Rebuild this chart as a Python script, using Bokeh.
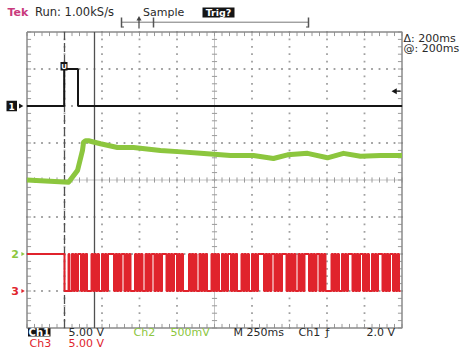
import numpy as np
from bokeh.plotting import figure
from bokeh.models import Range1d
from bokeh.core.properties import value
from bokeh.embed import file_html
from bokeh.resources import INLINE

# ---------------- data ----------------
time_per_div = 250.0          # ms / div
ch1_scale, ch1_pos = 5.0, 2   # V/div, ground position (div)
ch2_scale, ch2_pos = 0.5, -2
ch3_scale, ch3_pos = 5.0, -3
trig_level = 2.0              # V on Ch1
cursor_a, cursor_b = 0.0, 200.0   # ms

ch1_t = [-250, -2, -2, 90, 90, 2250]
ch1_v = [0.0, 0.0, 5.0, 5.0, 0.0, 0.0]

ch2_t = [-250, 27, 87, 120, 127, 140, 160, 240, 353, 460, 640, 780, 907, 1107,
         1260, 1393, 1487, 1620, 1753, 1860, 1973, 2107, 2250]
ch2_v = [1.00, 0.97, 1.13, 1.40, 1.51, 1.53, 1.53, 1.49, 1.44, 1.44, 1.40, 1.38,
         1.36, 1.33, 1.33, 1.29, 1.34, 1.36, 1.30, 1.36, 1.32, 1.33, 1.33]

# Ch3: high before trigger, short low, then PWM (run lengths in 10 ms slots)
ch3_pre_t = [-250, 0, 0, 27, 27, 33, 33, 50]
ch3_pre_v = [5.0, 5.0, 0.0, 0.0, 5.0, 5.0, 0.0, 0.0]
ch3_runs = ("1111211113111112111141111121111311111211112111113111112111141111121111"
            "1311111211112111131111121111411111211111311111121111311111211114111112"
            "11113111112111121111311111211111")
ch3_slot = 10.0  # ms

# ---------------- geometry ----------------
W, H = 462, 349
PXX, PXY = 37.5, 37.0               # px per division
GX0, GY0 = 26.5, 31.5               # grid top-left on the page
t_left = -time_per_div - GX0 / PXX * time_per_div
t_right = t_left + W / PXX * time_per_div
d_top = 4 + GY0 / PXY
d_bot = d_top - H / PXY

def X(px):  # page px -> ms
    return t_left + px / PXX * time_per_div

def Y(py):  # page px -> div
    return d_top - py / PXY

p = figure(width=W, height=H, x_range=Range1d(t_left, t_right),
           y_range=Range1d(d_bot, d_top), output_backend="svg",
           toolbar_location=None, min_border=0,
           x_axis_location=None, y_axis_location=None)
p.grid.visible = False
p.outline_line_color = None
p.background_fill_color = "white"
p.border_fill_color = "white"

p.extra_y_ranges = {
    "ch1": Range1d((d_bot - ch1_pos) * ch1_scale, (d_top - ch1_pos) * ch1_scale),
    "ch2": Range1d((d_bot - ch2_pos) * ch2_scale, (d_top - ch2_pos) * ch2_scale),
    "ch3": Range1d((d_bot - ch3_pos) * ch3_scale, (d_top - ch3_pos) * ch3_scale),
}

# ---------------- graticule ----------------
GRID = "#a0a0a0"
tmin, tmax = -time_per_div, 9 * time_per_div
mt = np.arange(tmin, tmax + 1, time_per_div / 5)
md = np.arange(-4, 4.01, 0.2)
vx = [tmin + k * time_per_div for k in range(1, 10) if k != 5]
hy = [-3, -2, -1, 1, 2, 3]
dots_x = np.concatenate([np.repeat(vx, len(md)), np.tile(mt, len(hy))])
dots_y = np.concatenate([np.tile(md, len(vx)), np.repeat(hy, len(mt))])
p.scatter(x=dots_x, y=dots_y, marker="square", size=1.8, fill_color=GRID,
          line_color=None)
# centre axes with minor ticks
tc = tmin + 5 * time_per_div
p.segment(x0=[tmin], y0=[0], x1=[tmax], y1=[0], line_color="#c4c4c4", line_width=1)
p.segment(x0=[tc], y0=[-4], x1=[tc], y1=[4], line_color="#c4c4c4", line_width=1)
p.segment(x0=mt, y0=-0.07, x1=mt, y1=0.07, line_color="#9a9a9a", line_width=1)
dt = 0.07 * time_per_div * PXY / PXX
p.segment(x0=tc - dt, y0=md, x1=tc + dt, y1=md, line_color="#9a9a9a", line_width=1)
# border ticks
tk_t = 0.11
tk_d = 0.11 * time_per_div * PXY / PXX
p.segment(x0=mt, y0=4, x1=mt, y1=4 - tk_t, line_color="#9a9a9a", line_width=1)
p.segment(x0=mt, y0=-4, x1=mt, y1=-4 + tk_t, line_color="#9a9a9a", line_width=1)
p.segment(x0=tmin, y0=md, x1=tmin + tk_d, y1=md, line_color="#9a9a9a", line_width=1)
p.segment(x0=tmax, y0=md, x1=tmax - tk_d, y1=md, line_color="#9a9a9a", line_width=1)
p.line(x=[tmin, tmax, tmax, tmin, tmin], y=[4, 4, -4, -4, 4],
       line_color="#8a8a8a", line_width=1.5)

# ---------------- cursors ----------------
p.segment(x0=[cursor_a], y0=[-4], x1=[cursor_a], y1=[4], line_color="#505050",
          line_width=1.3, line_dash="9 3")
p.segment(x0=[cursor_b], y0=[-4], x1=[cursor_b], y1=[4], line_color="#505050",
          line_width=1.3)

# ---------------- traces ----------------
GREEN, RED, BLACK = "#8cc63e", "#e0232c", "#151515"
p.line(ch2_t, ch2_v, y_range_name="ch2", line_color=GREEN, line_width=5,
       line_join="round")

# ch3 step trace
xs, ys = list(ch3_pre_t), list(ch3_pre_v)
t, lvl = ch3_pre_t[-1], 5.0
for c in ch3_runs:
    xs += [t, t]
    ys += [ys[-1], lvl]
    t2 = min(t + int(c) * ch3_slot, tmax)
    xs.append(t2)
    ys.append(lvl)
    t = t2
    lvl = 0.0 if lvl > 0 else 5.0
    if t >= tmax:
        break
p.line(xs, ys, y_range_name="ch3", line_color=RED, line_width=2)

p.line(ch1_t, ch1_v, y_range_name="ch1", line_color=BLACK, line_width=2)

# ---------------- markers ----------------
FONT = value("DejaVu Sans")

def txt(px, py, s, color="#2a2a2a", size="11px", style="normal", align="left",
        rng="default", yv=None):
    kw = {}
    if rng != "default":
        kw["y_range_name"] = rng
    p.text(x=[X(px)], y=[Y(py) if yv is None else yv], text=[s], text_font=FONT,
           text_font_size=size, text_color=color, text_font_style=style,
           text_baseline="middle", text_align=align, **kw)

def box(px0, px1, py0, py1, color=BLACK):
    p.quad(left=X(px0), right=X(px1), top=Y(py0), bottom=Y(py1),
           fill_color=color, line_color=None)

# channel ground markers
p.quad(left=X(6), right=X(16.5), top=[ch1_scale * 0.14], bottom=[-ch1_scale * 0.14],
       y_range_name="ch1", fill_color=BLACK, line_color=None)
txt(11.2, 0, "1", color="white", size="9px", style="bold", align="center",
    rng="ch1", yv=0)
p.scatter(x=[X(20)], y=[0], y_range_name="ch1", marker="triangle", angle=-np.pi / 2,
          size=5, fill_color=BLACK, line_color=None)
txt(14.5, 0, "2", color=GREEN, size="11px", style="bold", align="center",
    rng="ch2", yv=0)
p.scatter(x=[X(22)], y=[0], y_range_name="ch2", marker="triangle", angle=-np.pi / 2,
          size=4, fill_color=GREEN, line_color=None)
txt(14.5, 0, "3", color=RED, size="11px", style="bold", align="center",
    rng="ch3", yv=0)
p.scatter(x=[X(22)], y=[0], y_range_name="ch3", marker="triangle", angle=-np.pi / 2,
          size=4, fill_color=RED, line_color=None)
# trigger level arrow
p.scatter(x=[X(394.5)], y=[trig_level], y_range_name="ch1", marker="triangle",
          angle=np.pi / 2, size=6, fill_color=BLACK, line_color=None)
p.segment(x0=[X(395)], y0=[trig_level], x1=[X(400)], y1=[trig_level],
          y_range_name="ch1", line_color=BLACK, line_width=1.2)
# small marker at pulse top
box(60, 67, 61.5, 70)
txt(63.5, 66, "U", color="white", size="7px", style="bold", align="center")

# ---------------- header ----------------
txt(7, 11.5, "Tek", color="#c93a7d", size="11px", style="bold")
txt(34.5, 11.5, "Run: 1.00kS/s", size="11.5px")
txt(142.5, 11.5, "Sample", size="11px")
box(202, 234, 7, 17)
txt(218, 12, "Trig?", color="white", size="9.5px", style="bold", align="center")
# record view bracket
p.segment(x0=[X(121)], y0=[Y(21.7)], x1=[X(308)], y1=[Y(21.7)], line_color="#777777",
          line_width=1)
for bx in (121, 153, 308):
    p.segment(x0=[X(bx)], y0=[Y(17)], x1=[X(bx)], y1=[Y(27)], line_color="#555555",
              line_width=1.5)
p.segment(x0=[X(121)], y0=[Y(26.5)], x1=[X(123.5)], y1=[Y(26.5)],
          line_color="#555555", line_width=1.2)
p.segment(x0=[X(305.5)], y0=[Y(26.5)], x1=[X(308)], y1=[Y(26.5)],
          line_color="#555555", line_width=1.2)
p.segment(x0=[X(138.5)], y0=[Y(18)], x1=[X(138.5)], y1=[Y(28)], line_color="#444444",
          line_width=1.2)
p.scatter(x=[X(138.5)], y=[Y(18.5)], marker="triangle", size=5,
          fill_color="#444444", line_color=None)

# cursor readouts
txt(403, 37.5, "\u0394: 200ms", size="11px")
txt(403, 47.5, "@: 200ms", size="11px")

# ---------------- footer ----------------
R1, R2 = 332.0, 343.0
box(27.5, 50, 327.8, 336)
txt(38.8, R1, "Ch1", color="white", size="10px", style="bold", align="center")
txt(68, R1, "5.00 V", size="11px")
txt(133, R1, "Ch2", color=GREEN, size="11px")
txt(170, R1, "500mV", color=GREEN, size="11px")
txt(233, R1, "M 250ms", size="11px")
txt(298, R1, "Ch1", size="11px")
txt(325, R1, "\u0192", size="11px")
txt(366, R1, "2.0 V", size="11px")
txt(29, R2, "Ch3", color=RED, size="11px")
txt(68, R2, "5.00 V", color=RED, size="11px")

open("out.html", "w").write(file_html(p, INLINE))
